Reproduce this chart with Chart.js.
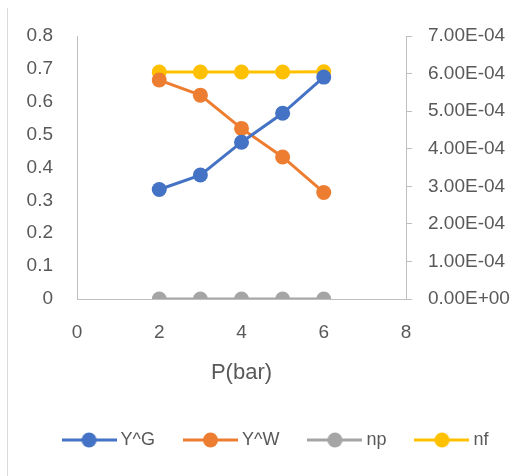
<!DOCTYPE html>
<html>
<head>
<meta charset="utf-8">
<script src="https://cdn.jsdelivr.net/npm/chart.js@4.4.1/dist/chart.umd.min.js"></script>
<style>
  html, body { margin: 0; padding: 0; background: #fff; }
  #wrap { width: 531px; height: 476px; }
</style>
</head>
<body>
<div id="wrap"><canvas id="myChart" width="531" height="476"></canvas></div>
<script>
// data
const pressure = [2, 3, 4, 5, 6];
const yG = [0.333, 0.377, 0.477, 0.565, 0.675];
const yW = [0.666, 0.620, 0.519, 0.432, 0.324];
const np = [0, 0, 0, 0, 0];
const nf = [6.04e-4, 6.04e-4, 6.04e-4, 6.04e-4, 6.05e-4];
const seriesNames = ['Y^G', 'Y^W', 'np', 'nf'];
const seriesColors = ['#4472C4', '#ED7D31', '#A5A5A5', '#FFC000'];

const axisColor = '#BFBFBF';
const textColor = '#595959';
const fontFam = "'Liberation Sans', Arial, sans-serif";

function pts(ys) {
  return pressure.map((p, i) => ({x: p, y: ys[i]}));
}

// little line + dot picture for the legend
function legendIcon(color) {
  const c = document.createElement('canvas');
  c.width = 55; c.height = 16;
  const g = c.getContext('2d');
  g.strokeStyle = color;
  g.lineWidth = 3;
  g.beginPath(); g.moveTo(0, 8); g.lineTo(55, 8); g.stroke();
  g.fillStyle = color;
  g.beginPath(); g.arc(27.5, 8, 7.5, 0, Math.PI * 2); g.fill();
  return c;
}

function mkSet(i, ys, axis) {
  return {
    label: seriesNames[i],
    data: pts(ys),
    yAxisID: axis,
    borderColor: seriesColors[i],
    backgroundColor: seriesColors[i],
    borderWidth: 3,
    pointRadius: 7.5,
    pointHoverRadius: 7.5,
    pointBorderWidth: 0,
    pointStyle: 'circle',
    legendIcon: legendIcon(seriesColors[i]),
    tension: 0
  };
}

const datasets = [
  mkSet(0, yG, 'y'),
  mkSet(1, yW, 'y'),
  mkSet(2, np, 'y2'),
  mkSet(3, nf, 'y2')
];

const frameLine = {
  id: 'frameLine',
  afterLayout(chart) {
    chart.legend.left += 12;
    chart.legend.right += 12;
  },
  beforeDraw(chart) {
    const ctx = chart.ctx;
    ctx.save();
    ctx.strokeStyle = '#D9D9D9';
    ctx.lineWidth = 1;
    ctx.beginPath();
    ctx.moveTo(7.5, 8);
    ctx.lineTo(7.5, 476);
    ctx.stroke();
    ctx.restore();
  }
};

new Chart(document.getElementById('myChart').getContext('2d'), {
  type: 'line',
  data: { datasets: datasets },
  options: {
    responsive: false,
    animation: false,
    layout: { padding: { top: 36, left: 0, right: 0, bottom: 17 } },
    plugins: {
      tooltip: { enabled: false },
      legend: {
        position: 'bottom',
        labels: {
          usePointStyle: true,
          pointStyleWidth: 45,
          padding: 33,
          color: textColor,
          font: { family: fontFam, size: 18 },
          generateLabels(chart) {
            return chart.data.datasets.map((d, i) => ({
              text: d.label,
              pointStyle: d.legendIcon,
              fontColor: textColor,
              strokeStyle: d.borderColor,
              fillStyle: d.backgroundColor,
              lineWidth: 0,
              hidden: false,
              datasetIndex: i
            }));
          }
        }
      }
    },
    scales: {
      x: {
        type: 'linear',
        min: 0, max: 8,
        ticks: { stepSize: 2, color: textColor, padding: 22, font: { family: fontFam, size: 19 } },
        grid: { display: true, drawOnChartArea: false, drawTicks: false },
        border: { color: axisColor, width: 1 },
        title: { display: true, text: 'P(bar)', color: textColor, font: { family: fontFam, size: 22 }, padding: { top: 0, bottom: 12 } },
        afterFit(s) { s.height = 99; }
      },
      y: {
        position: 'left',
        min: 0, max: 0.8,
        ticks: { stepSize: 0.1, color: textColor, padding: 24, font: { family: fontFam, size: 19 },
          callback: v => (Math.round(v * 10) / 10).toString() },
        grid: { display: true, drawOnChartArea: false, drawTicks: false },
        border: { color: axisColor, width: 1 },
        afterFit(s) { s.width = 77; }
      },
      y2: {
        position: 'right',
        min: 0, max: 7e-4,
        ticks: { stepSize: 1e-4, color: textColor, padding: 16, font: { family: fontFam, size: 19 },
          callback: v => Number(v).toExponential(2).toUpperCase().replace(/E([+-])(\d)$/, 'E$10$2') },
        grid: { display: true, drawOnChartArea: false, drawTicks: true, tickLength: 6, tickColor: axisColor },
        border: { color: axisColor, width: 1 },
        afterFit(s) { s.width = 125; }
      }
    }
  },
  plugins: [frameLine]
});
</script>
</body>
</html>
